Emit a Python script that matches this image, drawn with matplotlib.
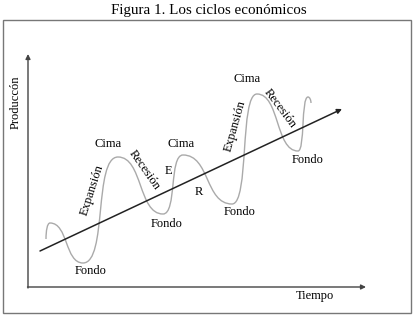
import matplotlib
matplotlib.use("Agg")
import matplotlib.pyplot as plt
from matplotlib.path import Path
from matplotlib.patches import PathPatch, Rectangle

plt.rcParams['font.family'] = ['Liberation Serif', 'DejaVu Serif']

# picture coordinates (pixels, y grows downward)
# turning points of the cycle curve
cycle_x = [46, 50, 83, 118, 163, 183, 232, 257, 298, 308, 311]
cycle_y = [239, 223, 263, 157, 214, 155, 204, 94, 151, 97, 103]

trend_start = (40, 251)
trend_end = (342, 109)

labels = [
    ("Cima", 108, 144, 0), ("Cima", 181, 144, 0), ("Cima", 247, 79, 0),
    ("Fondo", 91, 271, 0), ("Fondo", 167, 224, 0), ("Fondo", 240, 212, 0),
    ("Fondo", 308, 160, 0),
    ("Expansión", 92, 190, 72), ("Recesión", 144, 170, -55),
    ("Expansión", 235, 126, 74), ("Recesión", 280, 109, -53),
    ("E", 168, 171, 0), ("R", 199, 192, 0),
]

fig = plt.figure(figsize=(4.17, 3.16), dpi=100)
ax = fig.add_axes([0, 0, 1, 1])
ax.set_xlim(0, 417)
ax.set_ylim(316, 0)
ax.axis('off')

fig.text(0.5, 0.968, "Figura 1. Los ciclos económicos", ha='center', va='center', fontsize=10.8)
ax.add_patch(Rectangle((3, 20), 408, 293, fill=False, ec='#777777', lw=1))

# axes of the diagram
arrow = dict(arrowstyle='-|>', color='#444444', lw=1, mutation_scale=7, shrinkA=0, shrinkB=0)
ax.annotate("", xy=(28, 54), xytext=(28, 288), arrowprops=arrow)
ax.annotate("", xy=(366, 287), xytext=(27.5, 287), arrowprops=arrow)
ax.text(16, 102, "Produccón", rotation=90, ha='center', va='center', fontsize=9)
ax.text(315, 296, "Tiempo", ha='center', va='center', fontsize=9)

# cycle curve built from cubic segments with flat tangents at turning points
verts = [(cycle_x[0], cycle_y[0])]
codes = [Path.MOVETO]
for i in range(1, len(cycle_x)):
    x0, y0 = cycle_x[i - 1], cycle_y[i - 1]
    x1, y1 = cycle_x[i], cycle_y[i]
    dx = x1 - x0
    a = 0.7 if y1 < y0 else 0.55   # rises are steeper than falls
    if i == 1:
        c1 = (x0, y0 - 0.5 * (y0 - y1))
    else:
        c1 = (x0 + a * dx, y0)
    if i == len(cycle_x) - 1:
        c2 = (x1, y1 - 0.5 * (y1 - y0))
    else:
        c2 = (x1 - a * dx, y1)
    verts += [c1, c2, (x1, y1)]
    codes += [Path.CURVE4] * 3
ax.add_patch(PathPatch(Path(verts, codes), fill=False, ec='#aaaaaa', lw=1))

# trend line
ax.annotate("", xy=trend_end, xytext=trend_start,
            arrowprops=dict(arrowstyle='-|>', color='#222222', lw=1.1, mutation_scale=7,
                            shrinkA=0, shrinkB=0))

for txt, x, y, rot in labels:
    ax.text(x, y, txt, rotation=rot, ha='center', va='center', fontsize=9,
            rotation_mode='anchor')

fig.savefig("out.png", dpi=100)
